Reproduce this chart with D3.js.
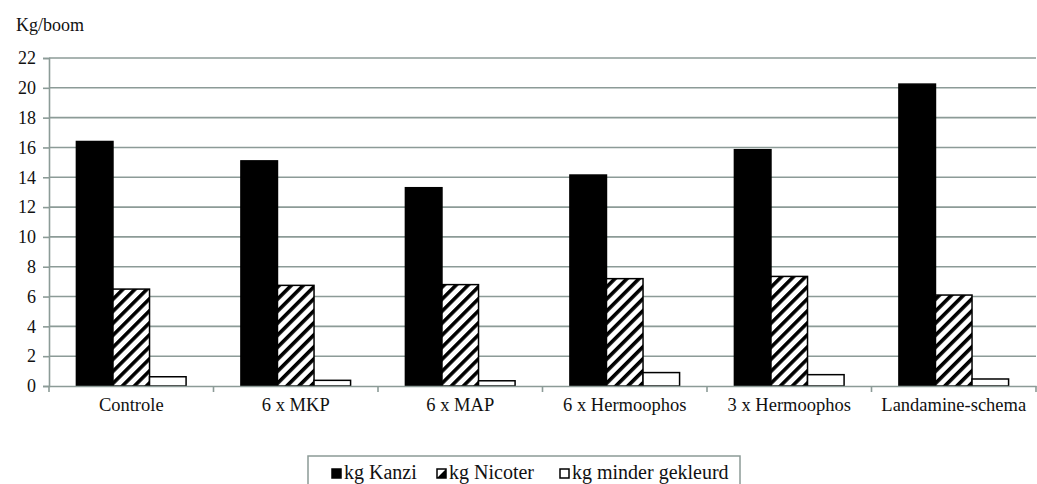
<!DOCTYPE html>
<html>
<head>
<meta charset="utf-8">
<script src="https://cdn.jsdelivr.net/npm/d3@7"></script>
<style>
  body { margin: 0; background: #fff; }
</style>
</head>
<body>
<div id="chart"></div>
<script>
const width = 1037, height = 484;

const categories = ["Controle", "6 x MKP", "6 x MAP", "6 x Hermoophos", "3 x Hermoophos", "Landamine-schema"];
const series = ["kg Kanzi", "kg Nicoter", "kg minder gekleurd"];
const kanzi = [16.4, 15.1, 13.3, 14.15, 15.85, 20.25];
const nicoter = [6.5, 6.75, 6.8, 7.2, 7.35, 6.1];
const minder = [0.62, 0.38, 0.35, 0.9, 0.76, 0.47];
const yTicks = [0, 2, 4, 6, 8, 10, 12, 14, 16, 18, 20, 22];

const values = [kanzi, nicoter, minder];
const margin = {left: 49, right: 1, top: 58, bottom: 98};
const serif = "'Liberation Serif', 'Times New Roman', serif";

const svg = d3.select("#chart")
	.append("svg")
	.attr("width", width)
	.attr("height", height)
	.attr("font-family", serif);

const defs = svg.append("defs");
const hatch = defs.append("pattern")
	.attr("id", "hatch")
	.attr("patternUnits", "userSpaceOnUse")
	.attr("width", 8.5)
	.attr("height", 8.5)
	.attr("patternTransform", "rotate(45)");
hatch.append("rect").attr("width", 8.5).attr("height", 8.5).attr("fill", "#fff");
hatch.append("rect").attr("x", 0).attr("width", 3.6).attr("height", 8.5).attr("fill", "#000");

const x = d3.scaleBand()
	.domain(categories)
	.range([margin.left, width - margin.right])
	.paddingInner(0)
	.paddingOuter(0);

const xInner = d3.scaleBand()
	.domain(series)
	.range([0, x.bandwidth()])
	.paddingOuter(0.75)
	.paddingInner(0);

const y = d3.scaleLinear()
	.domain([0, 22])
	.range([height - margin.bottom, margin.top]);

// gridlines
svg.append("g")
	.selectAll("line")
	.data(yTicks.slice(1))
	.join("line")
	.attr("x1", margin.left)
	.attr("x2", width - margin.right)
	.attr("y1", d => y(d))
	.attr("y2", d => y(d))
	.attr("stroke", "#8c9b97")
	.attr("stroke-width", 1.6);

// y axis
const yAxis = svg.append("g")
	.attr("transform", `translate(${margin.left},0)`)
	.call(d3.axisLeft(y).tickValues(yTicks).tickSize(6).tickPadding(7));
yAxis.attr("font-family", serif);
yAxis.select(".domain").attr("stroke", "#8c9b97").attr("stroke-width", 1.6);
yAxis.selectAll(".tick line").attr("stroke", "#8c9b97").attr("stroke-width", 1.6);
yAxis.selectAll("text").attr("font-size", 18).attr("fill", "#111");

// bars
const groups = svg.append("g")
	.selectAll("g")
	.data(categories)
	.join("g")
	.attr("transform", d => `translate(${x(d)},0)`);

groups.selectAll("rect")
	.data((c, i) => series.map((s, j) => ({s, j, v: values[j][i]})))
	.join("rect")
	.attr("x", d => xInner(d.s))
	.attr("width", xInner.bandwidth())
	.attr("y", d => y(d.v))
	.attr("height", d => y(0) - y(d.v))
	.attr("fill", d => d.j === 0 ? "#000" : d.j === 1 ? "url(#hatch)" : "#fff")
	.attr("stroke", "#000")
	.attr("stroke-width", 1.5);

// x axis
const xAxis = svg.append("g")
	.attr("transform", `translate(0,${y(0)})`)
	.call(d3.axisBottom(x).tickSize(0).tickPadding(12));
xAxis.attr("font-family", serif);
xAxis.select(".domain").attr("stroke", "#8c9b97").attr("stroke-width", 1.6);
xAxis.selectAll("text").attr("font-size", 18.5).attr("fill", "#111");
xAxis.append("g")
	.selectAll("line")
	.data(categories)
	.join("line")
	.attr("x1", d => x(d))
	.attr("x2", d => x(d))
	.attr("y1", 0)
	.attr("y2", 6)
	.attr("stroke", "#8c9b97")
	.attr("stroke-width", 1.6);
xAxis.append("line")
	.attr("x1", width - margin.right).attr("x2", width - margin.right)
	.attr("y1", 0).attr("y2", 6)
	.attr("stroke", "#8c9b97").attr("stroke-width", 1.6);

// unit label
svg.append("text")
	.attr("x", 16)
	.attr("y", 31)
	.attr("font-size", 18)
	.attr("fill", "#111")
	.text("Kg/boom");

// legend
const legend = svg.append("g");
legend.append("rect")
	.attr("x", 308)
	.attr("y", 456)
	.attr("width", 432)
	.attr("height", 40)
	.attr("fill", "#fff")
	.attr("stroke", "#8c9b97")
	.attr("stroke-width", 1.5);

const legendX = [332, 437, 560];
const items = legend.selectAll("g.item")
	.data(series)
	.join("g")
	.attr("class", "item")
	.attr("transform", (d, i) => `translate(${legendX[i]},0)`);

items.append("rect")
	.attr("x", 0)
	.attr("y", 469)
	.attr("width", 9)
	.attr("height", 9)
	.attr("fill", (d, i) => i === 0 ? "#000" : "#fff")
	.attr("stroke", "#000")
	.attr("stroke-width", 1.5);
items.filter((d, i) => i === 1)
	.append("path")
	.attr("d", "M9,469 L9,478 L0,478 Z")
	.attr("fill", "#000");
items.append("text")
	.attr("x", 12)
	.attr("y", 479)
	.attr("font-size", 20)
	.attr("fill", "#111")
	.text(d => d);
</script>
</body>
</html>
